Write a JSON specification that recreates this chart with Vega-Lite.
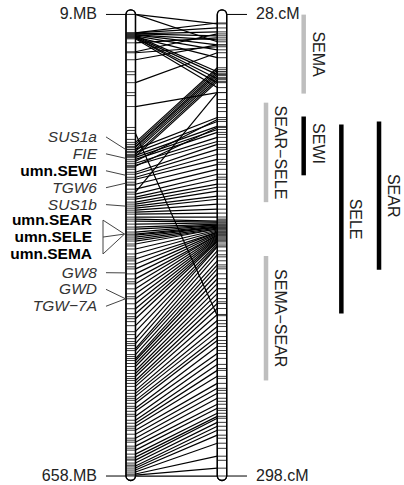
{
"$schema": "https://vega.github.io/schema/vega-lite/v6.json",
"width": 404, "height": 485,
"autosize": {"type": "fit", "contains": "padding"},
"padding": 0,
"config": {"view": {"stroke": null}, "axis": {"disable": true}, "legend": {"disable": true}, "text": {"font": "Liberation Sans", "fontSize": 16, "color": "#222"}},
"datasets": {
"links": [
{"mb":9,"cm":33.5},{"mb":9,"cm":44.0},{"mb":34.9,"cm":33.0},{"mb":34.9,"cm":35.9},{"mb":36.3,"cm":38.2},{"mb":36.3,"cm":40.5},{"mb":37.7,"cm":42.9},{"mb":37.7,"cm":45.8},{"mb":39.1,"cm":48.7},{"mb":40.5,"cm":53.3},
{"mb":39.1,"cm":61.5},{"mb":40.5,"cm":63.2},{"mb":41.9,"cm":65.6},{"mb":41.9,"cm":67.9},{"mb":43.3,"cm":70.8},{"mb":48.9,"cm":41.7},{"mb":61.5,"cm":39.4},{"mb":62.9,"cm":46.9},{"mb":72.7,"cm":45.8},{"mb":104.9,"cm":50.4},
{"mb":138.5,"cm":73.7},{"mb":188.9,"cm":59.2},{"mb":191.7,"cm":60.3},{"mb":194.5,"cm":61.5},{"mb":195.9,"cm":62.7},{"mb":198.7,"cm":63.8},{"mb":201.5,"cm":65.0},{"mb":205.7,"cm":66.2},{"mb":208.5,"cm":67.3},{"mb":258.9,"cm":73.7},
{"mb":176.3,"cm":204.2},{"mb":198.7,"cm":88.3},{"mb":202.9,"cm":90.6},{"mb":207.1,"cm":93.5},{"mb":209.9,"cm":95.3},{"mb":212.7,"cm":97.0},{"mb":215.5,"cm":89.5},{"mb":218.3,"cm":99.9},{"mb":221.1,"cm":102.3},{"mb":222.5,"cm":94.1},
{"mb":230.9,"cm":104.0},{"mb":233.7,"cm":106.9},{"mb":237.9,"cm":109.8},{"mb":240.7,"cm":112.8},{"mb":247.7,"cm":115.7},{"mb":254.7,"cm":118.6},{"mb":261.7,"cm":121.5},{"mb":265.9,"cm":124.4},{"mb":268.7,"cm":127.3},{"mb":272.9,"cm":129.1},
{"mb":275.7,"cm":131.4},{"mb":278.5,"cm":134.3},{"mb":281.4,"cm":136.1},{"mb":284.2,"cm":139.0},{"mb":287.0,"cm":141.9},{"mb":289.8,"cm":144.2},{"mb":294.0,"cm":146.5},{"mb":296.8,"cm":148.9},{"mb":299.6,"cm":149.5},{"mb":303.8,"cm":150.0},
{"mb":308.0,"cm":150.6},{"mb":310.8,"cm":151.2},{"mb":315.0,"cm":151.2},{"mb":317.8,"cm":151.8},{"mb":319.2,"cm":152.4},{"mb":322.0,"cm":152.4},{"mb":324.8,"cm":153.0},{"mb":327.6,"cm":153.5},{"mb":331.8,"cm":153.5},{"mb":338.8,"cm":154.1},
{"mb":345.8,"cm":154.7},{"mb":352.8,"cm":155.3},{"mb":359.8,"cm":155.3},{"mb":366.8,"cm":155.9},{"mb":373.8,"cm":156.4},{"mb":380.8,"cm":157.0},{"mb":387.8,"cm":157.0},{"mb":394.8,"cm":157.6},{"mb":401.8,"cm":158.2},{"mb":408.8,"cm":158.8},
{"mb":415.8,"cm":159.4},{"mb":422.8,"cm":160.0},{"mb":429.8,"cm":160.5},{"mb":436.8,"cm":161.1},{"mb":446.6,"cm":162.3},{"mb":455.0,"cm":163.4},{"mb":464.8,"cm":164.0},{"mb":471.8,"cm":166.3},{"mb":478.8,"cm":168.6},{"mb":481.6,"cm":172.1},
{"mb":487.2,"cm":174.5},{"mb":492.8,"cm":176.8},{"mb":495.6,"cm":179.7},{"mb":499.8,"cm":182.6},{"mb":504.0,"cm":185.5},{"mb":509.6,"cm":188.4},{"mb":513.8,"cm":191.3},{"mb":518.0,"cm":194.2},{"mb":523.6,"cm":197.1},{"mb":527.8,"cm":200.0},
{"mb":532.0,"cm":203.5},{"mb":537.6,"cm":207.0},{"mb":541.8,"cm":210.5},{"mb":546.0,"cm":213.4},{"mb":551.6,"cm":216.4},{"mb":555.8,"cm":218.7},{"mb":562.8,"cm":222.2},{"mb":567.0,"cm":226.3},{"mb":574.0,"cm":229.2},{"mb":579.6,"cm":232.7},
{"mb":583.8,"cm":236.2},{"mb":588.0,"cm":239.7},{"mb":593.6,"cm":243.8},{"mb":599.2,"cm":246.7},{"mb":604.8,"cm":249.6},{"mb":610.4,"cm":252.5},{"mb":616.0,"cm":256.0},{"mb":621.6,"cm":258.4},{"mb":627.2,"cm":261.3},{"mb":631.4,"cm":263.1},
{"mb":635.6,"cm":264.2},{"mb":639.8,"cm":266.6},{"mb":644.0,"cm":268.9},{"mb":646.8,"cm":271.2},{"mb":649.6,"cm":274.1},{"mb":652.4,"cm":278.8},{"mb":655.2,"cm":286.4},{"mb":656.6,"cm":293.4},{"mb":658.0,"cm":298.0}
],
"lband": [{"mb":89.5},{"mb":93.7},{"mb":118.9},{"mb":123.1},{"mb":167.9},{"mb":172.1},{"mb":184.7},{"mb":223.9},{"mb":226.7},{"mb":244.9},{"mb":249.1},{"mb":334.5},{"mb":349.9},{"mb":355.5},{"mb":363.9},{"mb":384.9},{"mb":405.9},{"mb":433.9},{"mb":440.9},{"mb":459.1},{"mb":468.9},{"mb":474.6},{"mb":490.0},{"mb":520.8},{"mb":548.8},{"mb":560.0},{"mb":571.2},{"mb":590.8},{"mb":607.6},{"mb":618.8},{"mb":634.2},{"mb":642.6}],
"rband": [{"cm":77.8},{"cm":80.1},{"cm":82.5},{"cm":84.8},{"cm":98.2},{"cm":105.8},{"cm":114.5},{"cm":123.2},{"cm":147.7},{"cm":148.3},{"cm":169.8},{"cm":175.7},{"cm":188.5},{"cm":196.1},{"cm":208.9},{"cm":220.5},{"cm":224.6},{"cm":235.1},{"cm":240.9},{"cm":247.9},{"cm":254.3},{"cm":259.6},{"cm":275.9},{"cm":281.8},{"cm":288.8}],
"lends": [{"mb":9,"label":"9.MB"},{"mb":658,"label":"658.MB"}],
"rends": [{"cm":28,"label":"28.cM"},{"cm":298,"label":"298.cM"}],
"genes": [
{"gene":"SUS1a","type":"gene","fan":false,"lab":181.2,"mb":198.7},
{"gene":"FIE","type":"gene","fan":false,"lab":205.0,"mb":211.3},
{"gene":"umn.SEWI","type":"marker","fan":false,"lab":228.8,"mb":235.1},
{"gene":"TGW6","type":"gene","fan":false,"lab":252.6,"mb":246.3},
{"gene":"SUS1b","type":"gene","fan":false,"lab":276.4,"mb":278.5},
{"gene":"umn.SEAR","type":"marker","fan":true,"lab":298.2,"mb":317.8},
{"gene":"umn.SELE","type":"marker","fan":true,"lab":322.0,"mb":317.8},
{"gene":"umn.SEMA","type":"marker","fan":true,"lab":345.8,"mb":317.8},
{"gene":"GW8","type":"gene","fan":false,"lab":372.1,"mb":372.4},
{"gene":"GWD","type":"gene","fan":false,"lab":395.5,"mb":408.8},
{"gene":"TGW−7A","type":"gene","fan":false,"lab":419.3,"mb":408.8}
],
"qtl": [
{"qtl":"SEMA","lane":2,"start":28.1,"end":74.3,"mid":51.2,"group":"g"},
{"qtl":"SEAR−SELE","lane":1,"start":79.6,"end":137.8,"mid":108.7,"group":"g"},
{"qtl":"SEWI","lane":2,"start":87.7,"end":122.1,"mid":103.5,"group":"k"},
{"qtl":"SELE","lane":3,"start":92.4,"end":203.0,"mid":147.7,"group":"k"},
{"qtl":"SEAR","lane":4,"start":90.6,"end":177.4,"mid":134.0,"group":"k"},
{"qtl":"SEMA−SEAR","lane":1,"start":169.3,"end":242.1,"mid":205.7,"group":"g"}
]
},
"layer": [
{"layer": [
{"data": {"values": [{}]}, "mark": {"type": "rect", "fill": "white", "stroke": "black", "strokeWidth": 1.3, "cornerRadius": 4.7},
 "encoding": {"x": {"datum": 0.9508, "type": "quantitative", "scale": {"domain": [-0.4262, 3.9891], "nice": false, "zero": false}}, "x2": {"datum": 1.0546},
  "y": {"datum": 2.7, "type": "quantitative", "scale": {"domain": [-11.3, 667.8], "reverse": true, "nice": false, "zero": false}}, "y2": {"datum": 664.3}}},
{"data": {"values": [{}]}, "mark": {"type": "rect", "fill": "white", "stroke": "black", "strokeWidth": 1.3, "cornerRadius": 4.7},
 "encoding": {"x": {"datum": 1.9486, "type": "quantitative", "scale": {"domain": [-0.4262, 3.9891], "nice": false, "zero": false}}, "x2": {"datum": 2.0514},
  "y": {"datum": 2.7, "type": "quantitative", "scale": {"domain": [-11.3, 667.8], "reverse": true, "nice": false, "zero": false}}, "y2": {"datum": 664.3}}},
{"data": {"name": "links"}, "mark": {"type": "rule", "color": "#222", "strokeWidth": 0.9},
 "encoding": {"x": {"datum": 0.9508, "type": "quantitative", "scale": {"domain": [-0.4262, 3.9891], "nice": false, "zero": false}}, "x2": {"datum": 1.0546},
  "y": {"field": "mb", "type": "quantitative", "scale": {"domain": [-11.3, 667.8], "reverse": true, "nice": false, "zero": false}}}},
{"data": {"name": "lband"}, "mark": {"type": "rule", "color": "#222", "strokeWidth": 0.9},
 "encoding": {"x": {"datum": 0.9508, "type": "quantitative", "scale": {"domain": [-0.4262, 3.9891], "nice": false, "zero": false}}, "x2": {"datum": 1.0546},
  "y": {"field": "mb", "type": "quantitative", "scale": {"domain": [-11.3, 667.8], "reverse": true, "nice": false, "zero": false}}}},
{"data": {"name": "links"}, "transform": [{"calculate": "9 + (datum.cm - 28) * 649 / 270", "as": "ry"}], "mark": {"type": "rule", "color": "#222", "strokeWidth": 0.9},
 "encoding": {"x": {"datum": 1.9486, "type": "quantitative", "scale": {"domain": [-0.4262, 3.9891], "nice": false, "zero": false}}, "x2": {"datum": 2.0514},
  "y": {"field": "ry", "type": "quantitative", "scale": {"domain": [-11.3, 667.8], "reverse": true, "nice": false, "zero": false}}}},
{"data": {"name": "rband"}, "transform": [{"calculate": "9 + (datum.cm - 28) * 649 / 270", "as": "ry"}], "mark": {"type": "rule", "color": "#222", "strokeWidth": 0.9},
 "encoding": {"x": {"datum": 1.9486, "type": "quantitative", "scale": {"domain": [-0.4262, 3.9891], "nice": false, "zero": false}}, "x2": {"datum": 2.0514},
  "y": {"field": "ry", "type": "quantitative", "scale": {"domain": [-11.3, 667.8], "reverse": true, "nice": false, "zero": false}}}},
{"data": {"name": "links"}, "transform": [{"calculate": "9 + (datum.cm - 28) * 649 / 270", "as": "ry"}], "mark": {"type": "rule", "color": "black", "strokeWidth": 1.2},
 "encoding": {"x": {"datum": 1.0546, "type": "quantitative", "scale": {"domain": [-0.4262, 3.9891], "nice": false, "zero": false}}, "x2": {"datum": 1.9486},
  "y": {"field": "mb", "type": "quantitative", "scale": {"domain": [-11.3, 667.8], "reverse": true, "nice": false, "zero": false}}, "y2": {"field": "ry"}}},
{"data": {"values": [{}]}, "mark": {"type": "rect", "fillOpacity": 0, "stroke": "black", "strokeWidth": 1.3, "cornerRadius": 4.7},
 "encoding": {"x": {"datum": 0.9508, "type": "quantitative", "scale": {"domain": [-0.4262, 3.9891], "nice": false, "zero": false}}, "x2": {"datum": 1.0546},
  "y": {"datum": 2.7, "type": "quantitative", "scale": {"domain": [-11.3, 667.8], "reverse": true, "nice": false, "zero": false}}, "y2": {"datum": 664.3}}},
{"data": {"values": [{}]}, "mark": {"type": "rect", "fillOpacity": 0, "stroke": "black", "strokeWidth": 1.3, "cornerRadius": 4.7},
 "encoding": {"x": {"datum": 1.9486, "type": "quantitative", "scale": {"domain": [-0.4262, 3.9891], "nice": false, "zero": false}}, "x2": {"datum": 2.0514},
  "y": {"datum": 2.7, "type": "quantitative", "scale": {"domain": [-11.3, 667.8], "reverse": true, "nice": false, "zero": false}}, "y2": {"datum": 664.3}}},
{"data": {"name": "lends"}, "mark": {"type": "rule", "color": "black", "strokeWidth": 1},
 "encoding": {"x": {"datum": 0.7322, "type": "quantitative", "scale": {"domain": [-0.4262, 3.9891], "nice": false, "zero": false}}, "x2": {"datum": 0.9508},
  "y": {"field": "mb", "type": "quantitative", "scale": {"domain": [-11.3, 667.8], "reverse": true, "nice": false, "zero": false}}}},
{"data": {"name": "lends"}, "mark": {"type": "text", "align": "right", "baseline": "middle"},
 "encoding": {"x": {"datum": 0.6339, "type": "quantitative", "scale": {"domain": [-0.4262, 3.9891], "nice": false, "zero": false}},
  "y": {"field": "mb", "type": "quantitative", "scale": {"domain": [-11.3, 667.8], "reverse": true, "nice": false, "zero": false}}, "text": {"field": "label"}}},
{"data": {"name": "rends"}, "transform": [{"calculate": "9 + (datum.cm - 28) * 649 / 270", "as": "ry"}], "mark": {"type": "rule", "color": "black", "strokeWidth": 1},
 "encoding": {"x": {"datum": 2.0514, "type": "quantitative", "scale": {"domain": [-0.4262, 3.9891], "nice": false, "zero": false}}, "x2": {"datum": 2.2732},
  "y": {"field": "ry", "type": "quantitative", "scale": {"domain": [-11.3, 667.8], "reverse": true, "nice": false, "zero": false}}}},
{"data": {"name": "rends"}, "transform": [{"calculate": "9 + (datum.cm - 28) * 649 / 270", "as": "ry"}], "mark": {"type": "text", "align": "left", "baseline": "middle"},
 "encoding": {"x": {"datum": 2.3716, "type": "quantitative", "scale": {"domain": [-0.4262, 3.9891], "nice": false, "zero": false}},
  "y": {"field": "ry", "type": "quantitative", "scale": {"domain": [-11.3, 667.8], "reverse": true, "nice": false, "zero": false}}, "text": {"field": "label"}}},
{"data": {"name": "genes"}, "transform": [{"filter": "!datum.fan"}], "mark": {"type": "rule", "color": "#444", "strokeWidth": 1},
 "encoding": {"x": {"datum": 0.7322, "type": "quantitative", "scale": {"domain": [-0.4262, 3.9891], "nice": false, "zero": false}}, "x2": {"datum": 0.9454},
  "y": {"field": "lab", "type": "quantitative", "scale": {"domain": [-11.3, 667.8], "reverse": true, "nice": false, "zero": false}}, "y2": {"field": "mb"}}},
{"data": {"name": "genes"}, "transform": [{"filter": "datum.fan"}], "mark": {"type": "rule", "color": "#444", "strokeWidth": 1},
 "encoding": {"x": {"datum": 0.6995, "type": "quantitative", "scale": {"domain": [-0.4262, 3.9891], "nice": false, "zero": false}}, "x2": {"datum": 0.9344},
  "y": {"field": "lab", "type": "quantitative", "scale": {"domain": [-11.3, 667.8], "reverse": true, "nice": false, "zero": false}}, "y2": {"field": "mb"}}},
{"data": {"name": "genes"}, "transform": [{"filter": "datum.fan"}, {"aggregate": [{"op": "min", "field": "lab", "as": "lo"}, {"op": "max", "field": "lab", "as": "hi"}]}], "mark": {"type": "rule", "color": "#444", "strokeWidth": 1},
 "encoding": {"x": {"datum": 0.6995, "type": "quantitative", "scale": {"domain": [-0.4262, 3.9891], "nice": false, "zero": false}},
  "y": {"field": "lo", "type": "quantitative", "scale": {"domain": [-11.3, 667.8], "reverse": true, "nice": false, "zero": false}}, "y2": {"field": "hi"}}},
{"data": {"name": "genes"}, "transform": [{"filter": "datum.type == 'gene'"}], "mark": {"type": "text", "align": "right", "baseline": "middle", "fontStyle": "italic", "fontSize": 15.5, "color": "#333"},
 "encoding": {"x": {"datum": 0.6339, "type": "quantitative", "scale": {"domain": [-0.4262, 3.9891], "nice": false, "zero": false}},
  "y": {"field": "lab", "type": "quantitative", "scale": {"domain": [-11.3, 667.8], "reverse": true, "nice": false, "zero": false}}, "text": {"field": "gene"}}},
{"data": {"name": "genes"}, "transform": [{"filter": "datum.type == 'marker' && !datum.fan"}], "mark": {"type": "text", "align": "right", "baseline": "middle", "fontWeight": "bold", "fontSize": 15.5, "color": "black"},
 "encoding": {"x": {"datum": 0.6339, "type": "quantitative", "scale": {"domain": [-0.4262, 3.9891], "nice": false, "zero": false}},
  "y": {"field": "lab", "type": "quantitative", "scale": {"domain": [-11.3, 667.8], "reverse": true, "nice": false, "zero": false}}, "text": {"field": "gene"}}},
{"data": {"name": "genes"}, "transform": [{"filter": "datum.fan"}], "mark": {"type": "text", "align": "right", "baseline": "middle", "fontWeight": "bold", "fontSize": 15.5, "color": "black"},
 "encoding": {"x": {"datum": 0.5792, "type": "quantitative", "scale": {"domain": [-0.4262, 3.9891], "nice": false, "zero": false}},
  "y": {"field": "lab", "type": "quantitative", "scale": {"domain": [-11.3, 667.8], "reverse": true, "nice": false, "zero": false}}, "text": {"field": "gene"}}}
]},
{"layer": [
{"data": {"name": "qtl"}, "mark": {"type": "rule", "strokeWidth": 4.5},
 "encoding": {"x": {"field": "lane", "type": "quantitative", "scale": {"domain": [-6.061, 4.663], "nice": false, "zero": false}},
  "y": {"field": "start", "type": "quantitative", "scale": {"domain": [19.55, 302.08], "reverse": true, "nice": false, "zero": false}}, "y2": {"field": "end"},
  "color": {"field": "group", "type": "nominal", "scale": {"domain": ["g", "k"], "range": ["#bebebe", "#000000"]}, "legend": null}}},
{"data": {"name": "qtl"}, "mark": {"type": "text", "angle": 90, "dy": -14, "align": "center", "baseline": "middle", "fontSize": 16},
 "encoding": {"x": {"field": "lane", "type": "quantitative", "scale": {"domain": [-6.061, 4.663], "nice": false, "zero": false}},
  "y": {"field": "mid", "type": "quantitative", "scale": {"domain": [19.55, 302.08], "reverse": true, "nice": false, "zero": false}}, "text": {"field": "qtl"}}}
]}
],
"resolve": {"scale": {"x": "independent", "y": "independent"}}
}
